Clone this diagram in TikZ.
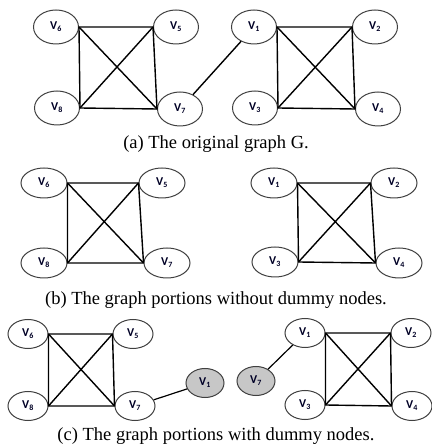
\documentclass[tikz,border=0pt]{standalone}
\usepackage{fontspec}
\setmainfont{Liberation Serif}
\newfontfamily\lblfont{Carlito}
\usetikzlibrary{shapes.geometric}
\begin{document}
\begin{tikzpicture}[x=1pt,y=1pt,
  vtx/.style={ellipse,draw=black!75,line width=1pt,inner sep=0pt,
    font=\lblfont\bfseries\fontsize{12}{12}\selectfont,text=black!85!blue},
  va/.style={vtx,minimum width=45pt,minimum height=34pt},
  vb/.style={vtx,minimum width=46pt,minimum height=30pt},
  vc/.style={vtx,minimum width=40pt,minimum height=29pt},
  dummy/.style={vtx,fill=black!22,draw=black!75,minimum width=38pt,minimum height=29pt},
  lnk/.style={line width=1.4pt,black},
  captxt/.style={anchor=base,font=\fontsize{18.5}{20}\selectfont}]
\useasboundingbox[fill=white] (0,0) rectangle (431,447);
\begin{scope}[shift={(0,447)},y=-1pt]
% panel (a)
\node[va] (v6a) at (56,27) {V\textsubscript{6}};
\node[va] (v5a) at (176,27) {V\textsubscript{5}};
\node[va] (v8a) at (57,108) {V\textsubscript{8}};
\node[va] (v7a) at (180,109) {V\textsubscript{7}};
\node[va] (v1a) at (254,27) {V\textsubscript{1}};
\node[va] (v2a) at (375,27) {V\textsubscript{2}};
\node[va] (v3a) at (255,108) {V\textsubscript{3}};
\node[va] (v4a) at (378,109) {V\textsubscript{4}};
\draw[lnk] (v6a.east) -- (v5a.west) -- (v7a.west) -- (v8a.east) -- cycle;
\draw[lnk] (v6a.east) -- (v7a.west) (v5a.west) -- (v8a.east);
\draw[lnk] (v1a.east) -- (v2a.west) -- (v4a.west) -- (v3a.east) -- cycle;
\draw[lnk] (v1a.east) -- (v4a.west) (v2a.west) -- (v3a.east);
\draw[lnk] (v7a) -- (v1a);
\node[captxt] (capa) at (216,149) {(a) The original graph G.};
% panel (b)
\node[vb] (v6b) at (44,183) {V\textsubscript{6}};
\node[vb] (v5b) at (162,183) {V\textsubscript{5}};
\node[vb] (v8b) at (44,263) {V\textsubscript{8}};
\node[vb] (v7b) at (167,263) {V\textsubscript{7}};
\node[vb] (v1b) at (274,183) {V\textsubscript{1}};
\node[vb] (v2b) at (394,183) {V\textsubscript{2}};
\node[vb] (v3b) at (275,262) {V\textsubscript{3}};
\node[vb] (v4b) at (399,263) {V\textsubscript{4}};
\draw[lnk] (v6b.east) -- (v5b.west) -- (v7b.west) -- (v8b.east) -- cycle;
\draw[lnk] (v6b.east) -- (v7b.west) (v5b.west) -- (v8b.east);
\draw[lnk] (v1b.east) -- (v2b.west) -- (v4b.west) -- (v3b.east) -- cycle;
\draw[lnk] (v1b.east) -- (v4b.west) (v2b.west) -- (v3b.east);
\node[captxt] (capb) at (216,305) {(b) The graph portions without dummy nodes.};
% panel (c)
\node[vc] (v6c) at (28,334) {V\textsubscript{6}};
\node[vc] (v5c) at (133,334) {V\textsubscript{5}};
\node[vc] (v8c) at (28,406) {V\textsubscript{8}};
\node[vc] (v7c) at (135,406) {V\textsubscript{7}};
\node[dummy] (d1) at (205,383) {V\textsubscript{1}};
\node[dummy] (d7) at (256,381) {V\textsubscript{7}};
\node[vc] (v1c) at (305,333) {V\textsubscript{1}};
\node[vc] (v2c) at (411,333) {V\textsubscript{2}};
\node[vc] (v3c) at (305,405) {V\textsubscript{3}};
\node[vc] (v4c) at (412,406) {V\textsubscript{4}};
\draw[lnk] (v6c.east) -- (v5c.west) -- (v7c.west) -- (v8c.east) -- cycle;
\draw[lnk] (v6c.east) -- (v7c.west) (v5c.west) -- (v8c.east);
\draw[lnk] (v1c.east) -- (v2c.west) -- (v4c.west) -- (v3c.east) -- cycle;
\draw[lnk] (v1c.east) -- (v4c.west) (v2c.west) -- (v3c.east);
\draw[lnk,line width=1.2pt] (v7c) -- (d1);
\draw[lnk,line width=1.2pt] (d7) -- (v1c);
\node[captxt] (capc) at (216,441) {(c) The graph portions with dummy nodes.};
\end{scope}
\end{tikzpicture}
\end{document}
